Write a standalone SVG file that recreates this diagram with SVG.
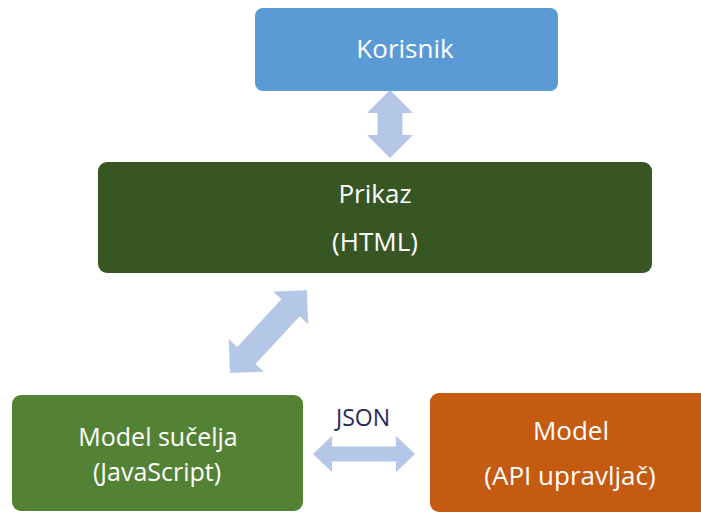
<svg xmlns="http://www.w3.org/2000/svg" width="701" height="512" viewBox="0 0 701 512">
<style>
.t{font-family:"Open Sans","Noto Sans","DejaVu Sans",sans-serif;fill:#ffffff;text-anchor:middle;font-size:26px}
.arr{fill:#B4C7E7}
</style>
<rect width="701" height="512" fill="#ffffff"/>
<g id="connectors">
<polygon class="arr" points="390,90 413,113 402.5,113 402.5,135 413,135 390,158 367,135 377.5,135 377.5,113 367,113"/>
<g transform="translate(230,373) rotate(-47.1)">
<polygon class="arr" points="0,0 24,-24 24,-12.5 89,-12.5 89,-24 113,0 89,24 89,12.5 24,12.5 24,24"/>
</g>
<polygon class="arr" points="313,454 332,436 332,446.5 396,446.5 396,436 415,454 396,472 396,461.5 332,461.5 332,472"/>
<text x="363" y="426" style="font-family:'Open Sans','Noto Sans',sans-serif;font-size:23px;fill:#1F2A5A;text-anchor:middle">JSON</text>
</g>
<g id="korisnik">
<rect x="255" y="8" width="303" height="83" rx="8" fill="#5B9BD5"/>
<text class="t" x="405" y="58">Korisnik</text>
</g>
<g id="prikaz">
<rect x="98" y="162" width="554" height="111" rx="9" fill="#375623"/>
<text class="t" x="375" y="203">Prikaz</text>
<text class="t" x="375" y="251">(HTML)</text>
</g>
<g id="model-sucelja">
<rect x="12" y="395" width="291" height="116" rx="9" fill="#548235"/>
<text class="t" x="158" y="446" style="font-size:25px">Model sučelja</text>
<text class="t" x="157" y="481" style="font-size:25px">(JavaScript)</text>
</g>
<g id="model">
<rect x="430" y="393" width="290" height="119" rx="9" fill="#C55A11"/>
<text class="t" x="571" y="440">Model</text>
<text class="t" x="570" y="485">(API upravljač)</text>
</g>
</svg>
